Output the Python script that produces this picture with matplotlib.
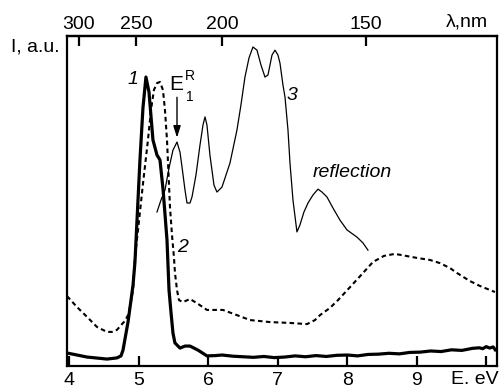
import matplotlib
matplotlib.use("Agg")
import matplotlib.pyplot as plt
import numpy as np

plt.rcParams['font.family'] = ['Liberation Sans', 'DejaVu Sans']

# Curve 1 (thick solid) : energy (eV), intensity (a.u.)
e1 = [3.967, 4.255, 4.542, 4.686, 4.744, 4.773, 4.845, 4.888, 4.917, 4.945, 5.017, 5.06,
      5.103, 5.147, 5.204, 5.262, 5.305, 5.35, 5.406, 5.435, 5.463, 5.492, 5.52, 5.593,
      5.665, 5.737, 5.852, 5.981, 6.1, 6.2, 6.35, 6.5, 6.65, 6.8, 6.95, 7.1, 7.25, 7.4,
      7.55, 7.7, 7.85, 8.0, 8.15, 8.3, 8.45, 8.6, 8.75, 8.9, 9.05, 9.2, 9.35, 9.5, 9.65,
      9.8, 9.9, 9.95, 10.0, 10.05, 10.1, 10.13]
i1 = [4.5, 3.1, 2.4, 2.8, 3.5, 5.5, 15.2, 22.8, 28.0, 36.0, 71.3, 89.3,
      100.0, 94.8, 78.2, 73.0, 71.3, 60.9, 43.6, 26.3, 18.7, 11.4, 8.0, 6.2,
      6.9, 6.9, 5.5, 3.5, 3.6, 3.8, 3.4, 3.2, 3.0, 3.3, 2.9, 3.1, 3.5, 3.2,
      3.6, 3.3, 3.7, 3.8, 3.5, 4.0, 4.1, 4.4, 4.2, 4.7, 4.8, 5.2, 5.0, 5.6, 5.4,
      6.1, 6.3, 6.0, 6.7, 6.2, 6.6, 5.6]

# Curve 2 (dashed)
e2 = [3.967, 4.111, 4.255, 4.399, 4.542, 4.614, 4.686, 4.758, 4.801, 4.845, 4.873, 4.917,
      4.945, 4.989, 5.06, 5.132, 5.175, 5.218, 5.262, 5.305, 5.348, 5.377, 5.406, 5.449,
      5.478, 5.506, 5.521, 5.55, 5.578, 5.636, 5.737, 5.852, 5.981, 6.211, 6.413, 6.6,
      6.888, 7.176, 7.421, 7.536, 7.608, 7.751, 7.867, 8.04, 8.212, 8.37, 8.528, 8.686,
      8.845, 9.003, 9.19, 9.334, 9.478, 9.578, 9.765, 9.909, 10.053, 10.125]
i2 = [24.2, 20.4, 17.0, 13.5, 11.8, 11.8, 12.5, 14.5, 15.6, 17.6, 20.4, 26.3,
      37.7, 47.0, 63.0, 78.2, 88.5, 95.5, 97.9, 98.3, 95.5, 88.5, 78.2, 55.0,
      45.3, 37.7, 32.2, 26.3, 22.8, 22.1, 23.2, 21.5, 19.4, 19.4, 17.6, 15.9,
      15.2, 14.9, 14.5, 15.9, 17.6, 20.1, 22.8, 27.3, 31.8, 36.0, 38.1, 38.8,
      38.1, 37.4, 36.7, 35.6, 33.9, 32.2, 29.4, 27.7, 26.3, 25.6]

# Curve 3 (thin solid, reflection)
e3 = [5.262, 5.319, 5.377, 5.435, 5.492, 5.55, 5.593, 5.622, 5.665, 5.694, 5.737, 5.766,
      5.823, 5.881, 5.924, 5.953, 5.981, 6.024, 6.082, 6.125, 6.197, 6.312, 6.413, 6.47,
      6.528, 6.586, 6.643, 6.701, 6.758, 6.816, 6.859, 6.917, 6.96, 7.003, 7.032, 7.075,
      7.104, 7.147, 7.176, 7.219, 7.276, 7.319, 7.377, 7.435, 7.507, 7.579, 7.636, 7.708,
      7.794, 7.895, 7.996, 8.14, 8.226, 8.298]
i3 = [53.3, 57.4, 60.9, 68.5, 74.7, 77.5, 74.0, 68.9, 60.9, 56.4, 56.4, 58.5,
      66.1, 76.5, 83.4, 86.2, 83.4, 73.0, 62.6, 60.2, 61.9, 70.2, 81.7, 90.3,
      100.0, 106.6, 110.4, 109.3, 104.2, 100.0, 100.7, 107.6, 109.3, 107.6, 104.8, 97.2,
      93.1, 81.7, 70.2, 57.4, 46.4, 48.8, 53.3, 56.4, 59.2, 61.2, 60.2, 58.5,
      54.7, 50.5, 47.1, 44.6, 42.6, 40.1]

bottom_ticks = [4, 5, 6, 7, 8, 9, 10]
bottom_labels = ['4', '5', '6', '7', '8', '9', '']
top_ticks = [300, 250, 200, 150]
HC = 1240.0

fig = plt.figure(figsize=(5.0, 3.89), dpi=100)
ax = fig.add_axes([67/500, 23/389, 430/500, 330/389])

ax.plot(e1, i1, color='black', lw=2.3, solid_joinstyle='round')
ax.plot(e2, i2, color='black', lw=1.5, dashes=(2.2, 1.6))
ax.plot(e3, i3, color='black', lw=0.9)

ax.set_xlim(3.967, 10.155)
ax.set_ylim(0, 114.2)

for s in ax.spines.values():
    s.set_linewidth(1.6)

ax.set_xticks(bottom_ticks)
ax.set_xticklabels(bottom_labels)
ax.tick_params(axis='x', direction='in', length=7, width=1.6, labelsize=14, pad=4.5)
ax.set_yticks([])

sec = ax.secondary_xaxis('top', functions=(lambda x: HC / np.asarray(x, dtype=float),
                                            lambda x: HC / np.asarray(x, dtype=float)))
sec.set_xticks(top_ticks)
sec.set_xticklabels([str(t) for t in top_ticks])
sec.tick_params(axis='x', direction='in', length=7, width=1.6, labelsize=14, pad=2.5)
sec.spines['top'].set_linewidth(1.6)

fig.text(60/500, 1 - 47/389, 'I, a.u.', ha='right', va='center', fontsize=14)
fig.text(467/500, 1 - 22/389, 'λ,nm', ha='center', va='center', fontsize=14)
fig.text(475/500, 1 - 379/389, 'E. eV', ha='center', va='center', fontsize=14)

ax.text(4.92, 99, '1', fontsize=14, style='italic', ha='center', va='center')
ax.text(5.63, 41, '2', fontsize=14, style='italic', ha='center', va='center')
ax.text(7.21, 93.5, '3', fontsize=14, style='italic', ha='center', va='center')
ax.text(8.07, 66.8, 'reflection', fontsize=14, style='italic', ha='center', va='center')

# E1^R marker
ax.text(5.545, 97.5, 'E', fontsize=15, ha='center', va='center')
ax.text(5.73, 100.5, 'R', fontsize=10, ha='center', va='center')
ax.text(5.73, 93.0, '1', fontsize=10, ha='center', va='center')
ax.annotate('', xy=(5.55, 79.0), xytext=(5.55, 93.0),
            arrowprops=dict(arrowstyle='-|>,head_length=0.7,head_width=0.22',
                            color='black', lw=1.0, shrinkA=0, shrinkB=0))

fig.savefig('out.png', dpi=100)
